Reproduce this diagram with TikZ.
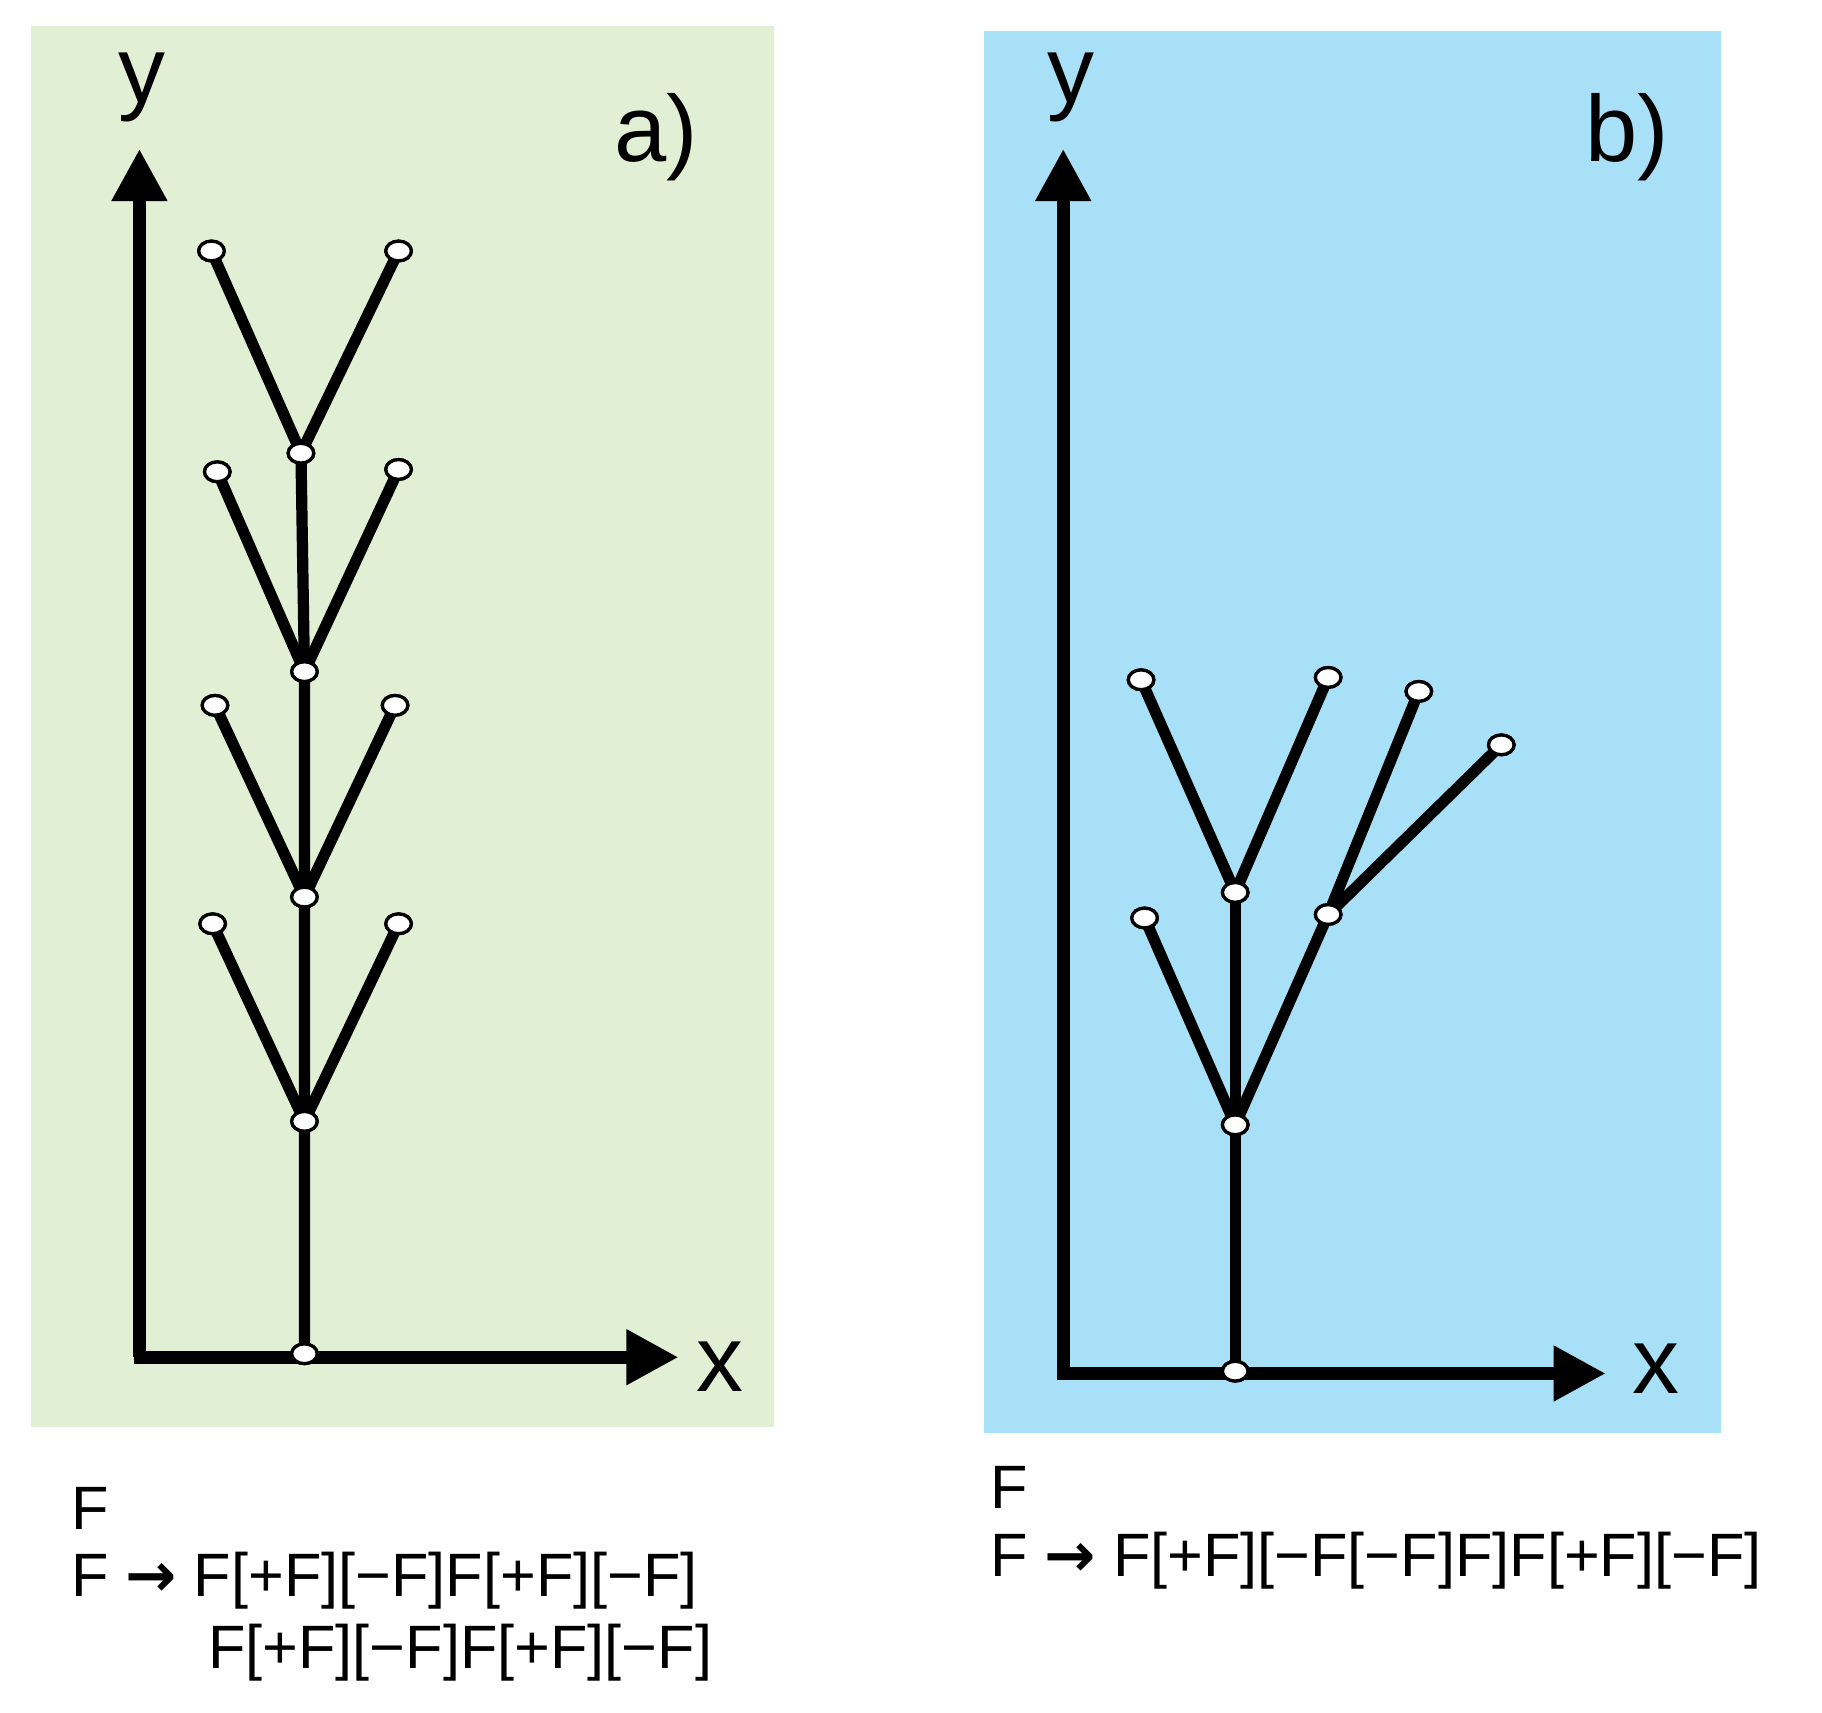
\documentclass[tikz,border=0pt]{standalone}
\usepackage{fontspec}
\setmainfont{Liberation Sans}
\newfontfamily\djv{DejaVu Sans}
\usetikzlibrary{arrows.meta,shapes.geometric}
\definecolor{bga}{HTML}{E1EFD4}
\definecolor{bgb}{HTML}{A8E0F8}
\newcommand{\myarr}{{\djv\bfseries →}}
\begin{document}
\begin{tikzpicture}[x=0.02cm,y=-0.02cm,
  axis/.style={line width=6.5pt,-{Triangle[length=0.9cm,width=0.9cm]}},
  br/.style={line width=5.5pt},
  nd/.style={ellipse,draw=black,fill=white,line width=1.6pt,minimum width=0.44cm,minimum height=0.34cm,inner sep=0pt},
  lab/.style={font=\fontsize{46}{50}\selectfont},
  txt/.style={font=\fontsize{30}{34}\selectfont,anchor=west}]
\useasboundingbox (0,0) rectangle (1568,1474);
\fill[bga] (27,22) rectangle (666,1228);
\fill[bgb] (847,27) rectangle (1481,1233);
% panel a
\coordinate (ao) at (120,1168);
\coordinate (ay) at (120,128);
\coordinate (ax) at (584,1168);
\draw[axis] (115,1168) -- (ax);
\draw[axis] (ao) -- (ay);
\node[lab] (aly) at (122,75) {y};
\node[lab] (alx) at (620,1176) {x};
\node[lab] (ala) at (565,118) {a)};
\node[nd] (a0) at (262,1165) {};
\node[nd] (a1) at (262,965) {};
\node[nd] (a2) at (262,772) {};
\node[nd] (a3) at (262,578) {};
\node[nd] (a4) at (259,390) {};
\node[nd] (a1l) at (183,795) {};
\node[nd] (a1r) at (343,795) {};
\node[nd] (a2l) at (185,607) {};
\node[nd] (a2r) at (340,607) {};
\node[nd] (a3l) at (187,406) {};
\node[nd] (a3r) at (343,404) {};
\node[nd] (a4l) at (182,216) {};
\node[nd] (a4r) at (343,216) {};
\draw[br] (a0.center) -- (a1.center) -- (a2.center) -- (a3.center) -- (a4.center);
\draw[br] (a1l.center) -- (a1.center) -- (a1r.center);
\draw[br] (a2l.center) -- (a2.center) -- (a2r.center);
\draw[br] (a3l.center) -- (a3.center) -- (a3r.center);
\draw[br] (a4l.center) -- (a4.center) -- (a4r.center);
\foreach \n in {a0,a1,a2,a3,a4,a1l,a1r,a2l,a2r,a3l,a3r,a4l,a4r}
  \node[nd] at (\n) {};
% panel b
\coordinate (bo) at (915,1182);
\coordinate (by) at (915,128);
\coordinate (bx) at (1382,1182);
\draw[axis] (910,1182) -- (bx);
\draw[axis] (bo) -- (by);
\node[lab] (bly) at (922,75) {y};
\node[lab] (blx) at (1425,1178) {x};
\node[lab] (blb) at (1400,118) {b)};
\node[nd] (b0) at (1063,1180) {};
\node[nd] (b1) at (1063,968) {};
\node[nd] (b1l) at (985,790) {};
\node[nd] (b2) at (1063,768) {};
\node[nd] (b1r) at (1143,787) {};
\node[nd] (b2l) at (982,585) {};
\node[nd] (b2r) at (1143,583) {};
\node[nd] (b3a) at (1221,595) {};
\node[nd] (b3b) at (1292,641) {};
\draw[br] (b0.center) -- (b1.center) -- (b2.center);
\draw[br] (b1l.center) -- (b1.center) -- (b1r.center);
\draw[br] (b2l.center) -- (b2.center) -- (b2r.center);
\draw[br] (b3a.center) -- (b1r.center) -- (b3b.center);
\foreach \n in {b0,b1,b1l,b2,b1r,b2l,b2r,b3a,b3b}
  \node[nd] at (\n) {};
% texts
\node[txt] (ta1) at (55,1298) {F};
\node[txt] (ta2) at (55,1360) {F \myarr{} F[+F][−F]F[+F][−F]};
\node[txt] (ta3) at (173,1422) {F[+F][−F]F[+F][−F]};
\node[txt] (tb1) at (846,1280) {F};
\node[txt] (tb2) at (846,1343) {F \myarr{} F[+F][−F[−F]F]F[+F][−F]};
\end{tikzpicture}
\end{document}
